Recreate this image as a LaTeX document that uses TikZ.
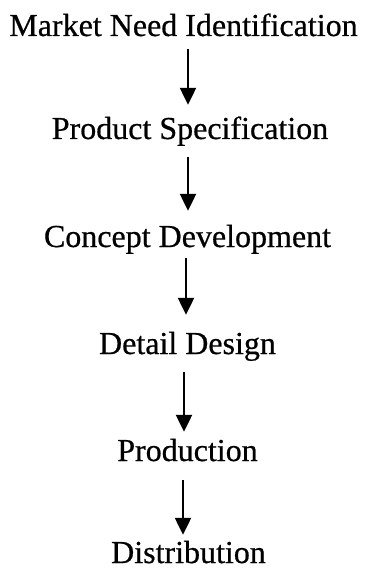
\documentclass[tikz,border=0pt]{standalone}
\usepackage{fontspec}
\setmainfont{Liberation Serif}[FakeBold=0.6]
\usetikzlibrary{arrows.meta}
\begin{document}
\begin{tikzpicture}[x=1pt,y=-1pt,
  stage/.style={anchor=base,inner sep=0pt,text height=21pt,text depth=0pt,
    font=\fontsize{32}{36}\selectfont},
  flow/.style={line width=2.3pt,-{Triangle[width=16pt,length=17pt]}}]
\useasboundingbox (0,0) rectangle (365,569);
% process stages, placed by their baselines
\node[stage] (mni) at (183.5,36)  {Market Need Identification};
\node[stage] (ps)  at (190,139)   {Product Specification};
\node[stage] (cd)  at (187.5,247) {Concept Development};
\node[stage] (dd)  at (187.5,354) {Detail Design};
\node[stage] (pr)  at (187.5,461) {Production};
\node[stage] (di)  at (188.5,563) {Distribution};
% downward arrows between stages
\draw[flow,shorten <=13pt,shorten >=13pt] ([xshift=4.5pt]mni.south) -- ([xshift=-2pt]ps.north);
\draw[flow,shorten <=18pt,shorten >=15pt] ([xshift=-2pt]ps.south) -- ([xshift=0.5pt]cd.north);
\draw[flow,shorten <=11pt,shorten >=18pt] ([xshift=-1.5pt]cd.south) -- ([xshift=-1.5pt]dd.north);
\draw[flow,shorten <=18pt,shorten >=8pt] ([xshift=-3.5pt]dd.south) -- ([xshift=-3.5pt]pr.north);
\draw[flow,shorten <=19pt,shorten >=7pt] ([xshift=-4.5pt]pr.south) -- ([xshift=-5.5pt]di.north);
\end{tikzpicture}
\end{document}
